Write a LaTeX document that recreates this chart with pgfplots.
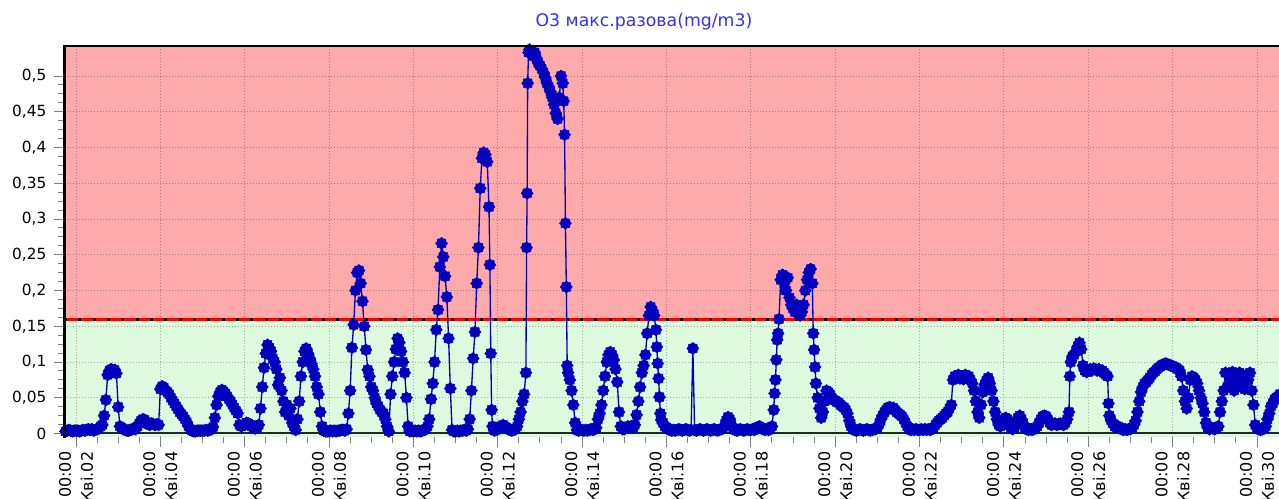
\documentclass[border=0pt]{standalone}
\usepackage{fontspec}
\setmainfont{DejaVu Sans}
\usepackage{pgfplots}
\pgfplotsset{compat=1.18}
\definecolor{bgred}{RGB}{255,170,170}
\definecolor{bggreen}{RGB}{222,250,222}
\definecolor{datablue}{RGB}{0,0,190}
\definecolor{titleblue}{RGB}{50,50,235}
\pgfdeclareplotmark{blob}{%
  \pgfpathmoveto{\pgfpointpolar{0}{\pgfplotmarksize}}%
  \pgfpathlineto{\pgfpointpolar{22.5}{0.8\pgfplotmarksize}}%
  \pgfpathlineto{\pgfpointpolar{45}{\pgfplotmarksize}}%
  \pgfpathlineto{\pgfpointpolar{67.5}{0.8\pgfplotmarksize}}%
  \pgfpathlineto{\pgfpointpolar{90}{\pgfplotmarksize}}%
  \pgfpathlineto{\pgfpointpolar{112.5}{0.8\pgfplotmarksize}}%
  \pgfpathlineto{\pgfpointpolar{135}{\pgfplotmarksize}}%
  \pgfpathlineto{\pgfpointpolar{157.5}{0.8\pgfplotmarksize}}%
  \pgfpathlineto{\pgfpointpolar{180}{\pgfplotmarksize}}%
  \pgfpathlineto{\pgfpointpolar{202.5}{0.8\pgfplotmarksize}}%
  \pgfpathlineto{\pgfpointpolar{225}{\pgfplotmarksize}}%
  \pgfpathlineto{\pgfpointpolar{247.5}{0.8\pgfplotmarksize}}%
  \pgfpathlineto{\pgfpointpolar{270}{\pgfplotmarksize}}%
  \pgfpathlineto{\pgfpointpolar{292.5}{0.8\pgfplotmarksize}}%
  \pgfpathlineto{\pgfpointpolar{315}{\pgfplotmarksize}}%
  \pgfpathlineto{\pgfpointpolar{337.5}{0.8\pgfplotmarksize}}%
  \pgfpathclose
  \pgfusepathqfillstroke}
\begin{document}
\begin{tikzpicture}[x=1pt,y=1pt]
\begin{axis}[
  name=ax,
  at={(48pt,46.5pt)}, anchor=south west,
  scale only axis, width=913.2pt, height=293.6pt,
  xmin=17.17, xmax=710, ymin=-0.0049, ymax=0.5427,
  set layers,
  axis line style={draw=none},
  tick pos=left, tick align=outside,
  xtick={24,72,120,168,216,264,312,360,408,456,504,552,600,648,696},
  xticklabels={{00:00\\Кві.02},{00:00\\Кві.04},{00:00\\Кві.06},{00:00\\Кві.08},{00:00\\Кві.10},{00:00\\Кві.12},{00:00\\Кві.14},{00:00\\Кві.16},{00:00\\Кві.18},{00:00\\Кві.20},{00:00\\Кві.22},{00:00\\Кві.24},{00:00\\Кві.26},{00:00\\Кві.28},{00:00\\Кві.30}},
  minor x tick num=3,
  ytick={0,0.05,0.1,0.15,0.2,0.25,0.3,0.35,0.4,0.45,0.5},
  minor y tick num=3,
  major tick length=7.5pt, minor tick length=4.5pt,
  tick style={gray, line width=0.75pt},
  grid=major,
  major grid style={black, opacity=0.3, line width=0.75pt, dash pattern=on 0.75pt off 1.5pt},
  yticklabel style={font=\fontsize{11.5}{13.8}\selectfont, anchor=east, xshift=-2.25pt,
    /pgf/number format/fixed, /pgf/number format/precision=2,
    /pgf/number format/use comma, /pgf/number format/assume math mode=true},
  xticklabel style={font=\fontsize{12}{16.5}\selectfont, rotate=90, anchor=east, align=right},
]
\begin{pgfonlayer}{axis background}
\fill[bggreen] (axis cs:17.17,-0.0049) rectangle (axis cs:710,0.16);
\fill[bgred] (axis cs:17.17,0.16) rectangle (axis cs:710,0.5427);
\end{pgfonlayer}
\draw[black!85, line width=1.5pt] (axis cs:17.17,0) -- (axis cs:710,0);
\draw[red, line width=2.25pt] (axis cs:17.17,0.16) -- (axis cs:710,0.16);
\draw[black, line width=2.25pt, dash pattern=on 2.25pt off 8.5pt] (axis cs:17.17,0.16) -- (axis cs:710,0.16);
\addplot[datablue, line width=1pt, mark=blob, mark size=4.5pt, mark options={fill=datablue, draw=datablue, line width=0.4pt}] coordinates {
(17,.004)(18,.003)(19,.004)(20,.005)(21,.004)(22,.003)(23,.004)
(24,.004)(25,.004)(26,.003)(27,.004)(28,.005)(29,.004)(30,.005)(31,.006)(32,.005)(33,.006)(34,.004)(35,.005)(36,.006)(37,.007)(38,.01)(39,.012)(40,.025)(41,.047)(42,.082)(43,.088)(44,.09)(45,.086)(46,.089)(47,.084)
(48,.037)(49,.01)(50,.008)(51,.006)(52,.005)(53,.004)(54,.004)(55,.005)(56,.006)(57,.007)(58,.006)(59,.01)(60,.014)(61,.018)(62,.02)(63,.019)(64,.016)(65,.013)(66,.012)(67,.014)(68,.013)(69,.012)(70,.013)(71,.012)
(72,.062)(73,.066)(74,.064)(75,.06)(76,.058)(77,.055)(78,.05)(79,.046)(80,.042)(81,.038)(82,.034)(83,.03)(84,.027)(85,.024)(86,.02)(87,.016)(88,.01)(89,.006)(90,.004)(91,.003)(92,.003)(93,.004)(94,.004)(95,.004)
(96,.004)(97,.004)(98,.005)(99,.004)(100,.005)(101,.006)(102,.009)(103,.022)(104,.04)(105,.052)(106,.058)(107,.061)(108,.059)(109,.056)(110,.052)(111,.048)(112,.045)(113,.04)(114,.036)(115,.032)(116,.028)(117,.012)(118,.01)(119,.012)
(120,.012)(121,.015)(122,.014)(123,.012)(124,.01)(125,.008)(126,.007)(127,.008)(128,.012)(129,.035)(130,.065)(131,.092)(132,.112)(133,.124)(134,.12)(135,.115)(136,.105)(137,.1)(138,.09)(139,.068)(140,.078)(141,.06)(142,.045)(143,.03)
(144,.04)(145,.025)(146,.035)(147,.015)(148,.01)(149,.005)(150,.02)(151,.045)(152,.08)(153,.1)(154,.115)(155,.119)(156,.112)(157,.105)(158,.098)(159,.09)(160,.08)(161,.065)(162,.055)(163,.03)(164,.01)(165,.004)(166,.003)(167,.003)
(168,.003)(169,.004)(170,.003)(171,.004)(172,.003)(173,.004)(174,.004)(175,.005)(176,.005)(177,.004)(178,.006)(179,.028)(180,.06)(181,.12)(182,.152)(183,.2)(184,.225)(185,.228)(186,.21)(187,.185)(188,.15)(189,.117)(190,.089)(191,.08)
(192,.065)(193,.06)(194,.05)(195,.042)(196,.038)(197,.033)(198,.03)(199,.028)(200,.02)(201,.01)(202,.003)(203,.055)(204,.08)(205,.1)(206,.118)(207,.133)(208,.127)(209,.115)(210,.1)(211,.085)(212,.05)(213,.01)(214,.003)(215,.004)
(216,.003)(217,.004)(218,.003)(219,.004)(220,.003)(221,.004)(222,.005)(223,.006)(224,.01)(225,.02)(226,.048)(227,.07)(228,.1)(229,.145)(230,.173)(231,.233)(232,.266)(233,.247)(234,.22)(235,.191)(236,.133)(237,.063)(238,.005)(239,.003)
(240,.003)(241,.004)(242,.003)(243,.004)(244,.004)(245,.005)(246,.004)(247,.006)(248,.02)(249,.06)(250,.105)(251,.142)(252,.21)(253,.26)(254,.343)(255,.385)(256,.393)(257,.39)(258,.38)(259,.317)(259.5,.236)(260,.112)(260.5,.033)(261,.01)(262,.004)(263,.005)
(264,.006)(265,.008)(266,.01)(267,.012)(268,.01)(269,.008)(270,.006)(271,.005)(272,.004)(273,.005)(274,.006)(275,.01)(276,.02)(277,.03)(278,.045)(279,.055)(280,.085)(280.4,.26)(280.7,.336)(281,.49)(281.5,.533)(282,.537)(283,.534)(284,.528)(285,.533)(286,.525)(287,.518)
(288,.515)(289,.51)(290,.505)(291,.498)(292,.49)(293,.485)(294,.478)(295,.47)(296,.46)(297,.448)(298,.44)(299,.47)(300,.5)(301,.49)(301.5,.465)(302,.418)(302.5,.294)(303,.205)(303.5,.095)(304,.085)(305,.075)(306,.06)(307,.04)(308,.015)(309,.005)(310,.004)(311,.005)
(312,.005)(313,.004)(314,.005)(315,.004)(316,.005)(317,.006)(318,.005)(319,.006)(320,.008)(321,.02)(322,.028)(323,.04)(324,.06)(325,.08)(326,.1)(327,.11)(328,.114)(329,.11)(330,.103)(331,.09)(332,.072)(333,.03)(334,.01)(335,.006)
(336,.006)(337,.008)(338,.01)(339,.008)(340,.01)(341,.008)(342,.012)(343,.026)(344,.045)(345,.065)(346,.085)(347,.095)(348,.11)(349,.14)(350,.165)(351,.177)(352,.172)(353,.165)(354,.145)(354.5,.121)(355,.098)(355.5,.077)(356,.051)(356.5,.028)(357,.019)(358,.015)(359,.01)
(360,.008)(361,.006)(362,.005)(363,.004)(364,.005)(365,.004)(366,.005)(367,.006)(368,.005)(369,.004)(370,.005)(371,.006)(372,.005)(373,.004)(374,.005)(375,.119)(376,.005)(377,.004)(378,.005)(379,.006)(380,.005)(381,.004)(382,.005)(383,.006)
(384,.005)(385,.004)(386,.005)(387,.006)(388,.005)(389,.004)(390,.005)(391,.006)(392,.007)(393,.01)(394,.018)(395,.023)(396,.02)(397,.012)(398,.007)(399,.005)(400,.004)(401,.005)(402,.006)(403,.005)(404,.004)(405,.005)(406,.006)(407,.005)
(408,.005)(409,.006)(410,.005)(411,.007)(412,.009)(413,.01)(414,.008)(415,.006)(416,.005)(417,.006)(418,.005)(419,.006)(420,.01)(421,.033)(421.5,.056)(422,.075)(422.5,.103)(423,.131)(423.5,.14)(424,.16)(425,.215)(426,.222)(427,.21)(428,.2)(429,.218)(430,.19)(431,.18)
(432,.175)(433,.17)(434,.18)(435,.175)(436,.165)(437,.17)(438,.18)(439,.2)(440,.215)(441,.225)(442,.23)(443,.21)(443.5,.14)(444,.117)(444.5,.093)(445,.07)(446,.05)(447,.035)(448,.022)(449,.03)(450,.045)(451,.06)(452,.058)(453,.055)(454,.05)(455,.047)
(456,.046)(457,.044)(458,.043)(459,.04)(460,.038)(461,.036)(462,.033)(463,.028)(464,.018)(465,.01)(466,.006)(467,.005)(468,.004)(469,.005)(470,.006)(471,.005)(472,.004)(473,.005)(474,.006)(475,.005)(476,.004)(477,.005)(478,.006)(479,.006)
(480,.008)(481,.013)(482,.02)(483,.025)(484,.03)(485,.033)(486,.036)(487,.037)(488,.035)(489,.036)(490,.033)(491,.03)(492,.028)(493,.026)(494,.024)(495,.02)(496,.015)(497,.01)(498,.006)(499,.005)(500,.006)(501,.005)(502,.006)(503,.005)
(504,.005)(505,.006)(506,.005)(507,.006)(508,.005)(509,.006)(510,.005)(511,.006)(512,.008)(513,.012)(514,.015)(515,.018)(516,.02)(517,.022)(518,.025)(519,.028)(520,.03)(521,.035)(522,.04)(523,.075)(524,.08)(525,.078)(526,.082)(527,.077)
(528,.08)(529,.076)(530,.082)(531,.078)(532,.08)(533,.075)(534,.07)(535,.06)(536,.045)(537,.03)(538,.022)(539,.04)(540,.058)(541,.068)(542,.074)(543,.078)(544,.07)(545,.06)(546,.045)(547,.03)(548,.02)(549,.012)(550,.01)(551,.012)
(552,.018)(553,.022)(554,.02)(555,.012)(556,.008)(557,.006)(558,.008)(559,.015)(560,.022)(561,.025)(562,.02)(563,.014)(564,.008)(565,.006)(566,.005)(567,.006)(568,.005)(569,.006)(570,.008)(571,.01)(572,.015)(573,.02)(574,.024)(575,.025)
(576,.024)(577,.02)(578,.015)(579,.012)(580,.013)(581,.014)(582,.012)(583,.013)(584,.014)(585,.013)(586,.012)(587,.015)(588,.02)(589,.03)(589.5,.08)(590,.1)(591,.108)(592,.11)(593,.115)(594,.122)(595,.127)(596,.118)(597,.095)(598,.088)(599,.086)
(600,.088)(601,.09)(602,.088)(603,.091)(604,.09)(605,.088)(606,.09)(607,.087)(608,.088)(609,.085)(610,.082)(611,.08)(611.5,.042)(612,.025)(613,.018)(614,.014)(615,.01)(616,.009)(617,.01)(618,.008)(619,.006)(620,.005)(621,.006)(622,.005)(623,.006)
(624,.006)(625,.008)(626,.012)(627,.018)(628,.03)(629,.045)(630,.058)(631,.065)(632,.07)(633,.072)(634,.075)(635,.078)(636,.082)(637,.085)(638,.087)(639,.09)(640,.092)(641,.094)(642,.096)(643,.097)(644,.098)(645,.097)(646,.096)(647,.095)
(648,.094)(649,.093)(650,.092)(651,.09)(652,.088)(653,.08)(654,.06)(655,.045)(656,.035)(657,.05)(658,.075)(659,.08)(660,.078)(661,.075)(662,.07)(663,.06)(664,.05)(665,.042)(666,.03)(667,.015)(668,.008)(669,.006)(670,.008)(671,.007)
(672,.006)(673,.008)(674,.01)(675,.03)(676,.045)(677,.06)(678,.085)(679,.065)(680,.083)(681,.07)(682,.086)(683,.06)(684,.078)(685,.065)(686,.085)(687,.07)(688,.082)(689,.062)(690,.08)(691,.075)(692,.085)(693,.06)(694,.04)(695,.012)
(696,.008)(697,.006)(698,.005)(699,.006)(700,.007)(701,.01)(702,.02)(703,.028)(704,.038)(705,.042)(706,.048)(707,.05)(708,.052)(709,.055)
};
\end{axis}
\draw[black, line width=1.5pt] (ax.north west) -- (ax.north east);
\draw[black, line width=2.25pt] ([yshift=-1pt]ax.south west) -- ([yshift=0.75pt]ax.north west);
\node[font=\fontsize{13}{15}\selectfont, text=titleblue] at (483,357.75) {O3 макс.разова(mg/m3)};
\pgfresetboundingbox
\useasboundingbox (0,0) rectangle (959.25,374.25);
\end{tikzpicture}
\end{document}
